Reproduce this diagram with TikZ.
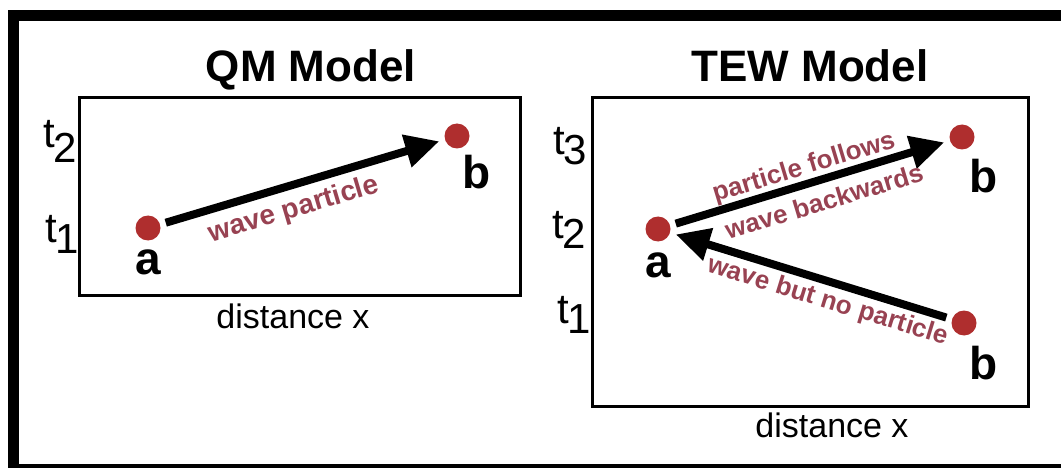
\documentclass[tikz,border=0pt]{standalone}
\usepackage{fontspec}
\setmainfont{Liberation Sans}
\usetikzlibrary{arrows.meta}
\definecolor{dotred}{HTML}{AF2E2E}
\definecolor{lblred}{HTML}{984252}
\tikzset{
  dot/.style={circle,fill=dotred,minimum size=25pt,inner sep=0pt,outer sep=6pt},
  arr/.style={line width=8pt,-{Triangle[length=34pt,width=32pt]}},
  frame/.style={draw,line width=3pt},
  title/.style={font=\fontsize{44}{50}\selectfont\bfseries,anchor=base,inner sep=0pt},
  axis/.style={font=\fontsize{34}{40}\selectfont,anchor=base,inner sep=0pt},
  tlbl/.style={font=\fontsize{42}{48}\selectfont,anchor=base west,inner sep=0pt},
  pt/.style={font=\fontsize{46}{52}\selectfont\bfseries,inner sep=0pt},
  lbl/.style={text=lblred,font=\fontsize{26}{30}\selectfont\bfseries,inner sep=0pt},
}
\begin{document}
\begin{tikzpicture}[x=1pt,y=-1pt]
\useasboundingbox (0,0) rectangle (1061,468);
\draw[line width=11pt] (13,16) rectangle (1080,469);
% QM model
\node[title] (qmt) at (311,82) {QM Model};
\draw[frame] (79,98) rectangle (520,295);
\node[axis] (qmx) at (293,328) {distance x};
\node[tlbl] (qmt2) at (43,148) {t\kern-1pt\raisebox{-15pt}{2}};
\node[tlbl] (qmt1) at (45,243) {t\kern-1pt\raisebox{-10pt}{1}};
\node[dot] (qa) at (148,228) {};
\node[dot] (qb) at (457,136) {};
\node[pt] (qal) at (148,262) {a};
\node[pt] (qbl) at (477,172) {b};
\draw[arr] (qa) -- (qb);
\node[lbl,font=\fontsize{28}{32}\selectfont\bfseries,rotate=16.6] (qlab) at (294,210) {wave particle};
% TEW model
\node[title] (tewt) at (810,82) {TEW Model};
\draw[frame] (592,98) rectangle (1028,406);
\node[axis] (tewx) at (832,437) {distance x};
\node[tlbl] (tt3) at (553,155) {t\kern-1pt\raisebox{-10pt}{3}};
\node[tlbl] (tt2) at (552,238) {t\kern-1pt\raisebox{-10pt}{2}};
\node[tlbl] (tt1) at (557,323) {t\kern-1pt\raisebox{-10pt}{1}};
\node[dot] (ta) at (658,229) {};
\node[dot] (tb3) at (962,137) {};
\node[dot] (tb1) at (964,323) {};
\node[pt] (tal) at (658,265) {a};
\node[pt] (tb3l) at (984,176) {b};
\node[pt] (tb1l) at (984,363) {b};
\draw[arr] (ta) -- (tb3);
\draw[arr] (tb1) -- (ta);
\node[lbl,rotate=16.8] (l1) at (804,168) {particle follows};
\node[lbl,rotate=16.8] (l2) at (824,201) {wave backwards};
\node[lbl,rotate=-17.1] (l3) at (828,302) {wave but no particle};
\end{tikzpicture}
\end{document}
